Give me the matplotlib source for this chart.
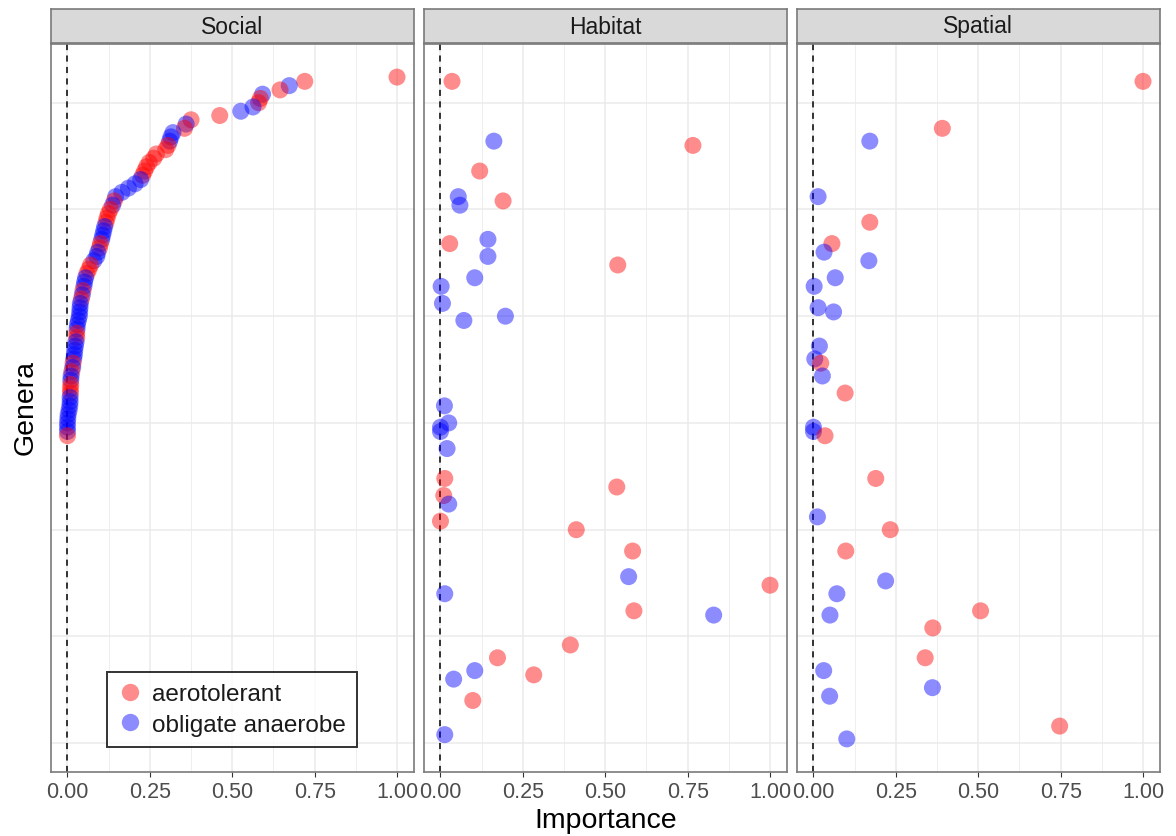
import matplotlib
matplotlib.use("Agg")
import matplotlib.pyplot as plt
from matplotlib.lines import Line2D
import numpy as np

plt.rcParams["font.family"] = ["Liberation Sans", "DejaVu Sans"]

# ---- data -------------------------------------------------------------
panels = ["Social", "Habitat", "Spatial"]
groups = ["aerotolerant", "obligate anaerobe"]
group_colors = {"aerotolerant": "#FF0000", "obligate anaerobe": "#0000FF"}

A, O = "aerotolerant", "obligate anaerobe"

social_rank = list(range(156, 71, -1))
social_importance = [
    1.000, 0.720, 0.673, 0.645, 0.592, 0.585, 0.580, 0.563, 0.526, 0.462,
    0.375, 0.360, 0.355, 0.320, 0.314, 0.310, 0.305, 0.298, 0.270, 0.262,
    0.248, 0.240, 0.234, 0.228, 0.222, 0.205, 0.185, 0.165, 0.146, 0.142,
    0.137, 0.130, 0.124, 0.120, 0.117, 0.113, 0.110, 0.107, 0.104, 0.100,
    0.097, 0.092, 0.089, 0.080, 0.070, 0.065, 0.059, 0.055, 0.052, 0.050,
    0.047, 0.045, 0.042, 0.039, 0.038, 0.037, 0.036, 0.033, 0.030, 0.029,
    0.028, 0.028, 0.026, 0.024, 0.022, 0.021, 0.019, 0.017, 0.016, 0.013,
    0.011, 0.010, 0.010, 0.009, 0.009, 0.008, 0.008, 0.007, 0.005, 0.002,
    0.001, 0.000, 0.000, 0.000, 0.000,
]
social_group = [
    A, A, O, A, O, A, A, O, O, A,
    A, O, A, O, O, O, A, A, A, A,
    A, A, A, A, O, O, O, O, O, A,
    O, A, A, A, A, O, O, O, O, A,
    A, O, O, O, A, A, A, O, O, O,
    A, O, A, O, O, O, O, O, O, O,
    A, A, O, O, O, O, O, A, O, A,
    O, O, A, A, A, O, O, O, O, O,
    O, O, O, O, A,
]

habitat_rank = [155, 141, 140, 134, 128, 126, 127, 117, 118, 114,
                112, 109, 107, 103, 100, 99, 79, 75, 74, 73,
                69, 62, 60, 58, 56, 52, 50, 45, 39, 37,
                35, 31, 30, 23, 20, 17, 16, 15, 10, 2]
habitat_importance = [0.035, 0.162, 0.766, 0.119, 0.054, 0.059, 0.190, 0.028, 0.144, 0.144,
                      0.538, 0.104, 0.002, 0.006, 0.197, 0.071, 0.012, 0.025, 0.000, 0.000,
                      0.020, 0.013, 0.535, 0.010, 0.025, 0.000, 0.412, 0.583, 0.571, 1.000,
                      0.013, 0.587, 0.829, 0.394, 0.173, 0.104, 0.283, 0.040, 0.098, 0.013]
habitat_group = [A, O, A, A, O, O, A, A, O, O,
                 A, O, O, O, O, O, O, O, O, O,
                 O, A, A, A, O, A, A, A, O, A,
                 O, A, O, A, A, O, A, O, A, O]

spatial_rank = [155, 144, 141, 128, 122, 117, 115, 113, 109, 107,
                102, 101, 93, 90, 89, 86, 82, 74, 73, 72,
                62, 53, 50, 45, 38, 35, 31, 30, 27, 20,
                17, 13, 11, 4, 1]
spatial_importance = [1.000, 0.391, 0.171, 0.014, 0.171, 0.056, 0.032, 0.168, 0.066, 0.002,
                      0.014, 0.061, 0.018, 0.004, 0.022, 0.027, 0.096, 0.000, 0.000, 0.035,
                      0.189, 0.012, 0.233, 0.098, 0.219, 0.071, 0.507, 0.050, 0.362, 0.339,
                      0.031, 0.361, 0.049, 0.747, 0.101]
spatial_group = [A, A, O, O, A, A, O, O, O, O,
                 O, O, O, O, A, O, A, O, O, A,
                 A, O, A, A, O, O, A, O, A, A,
                 O, O, O, A, O]

panel_data = {
    "Social": (social_rank, social_importance, social_group),
    "Habitat": (habitat_rank, habitat_importance, habitat_group),
    "Spatial": (spatial_rank, spatial_importance, spatial_group),
}

x_ticks = [0.0, 0.25, 0.5, 0.75, 1.0]
x_ticklabels = ["0.00", "0.25", "0.50", "0.75", "1.00"]
y_breaks = [0, 25, 50, 75, 100, 125, 150]

# ---- layout (pixels) ---------------------------------------------------
W, H = 1176, 837
fig = plt.figure(figsize=(W / 100, H / 100), dpi=100)

panel_left = [51, 424, 797]
panel_w = 362.5
panel_top, panel_bottom = 45, 773
strip_top = 10

border_col = "#7A7A7A"
grid_col = "#EBEBEB"

all_ranks = social_rank + habitat_rank + spatial_rank
ymin, ymax = min(all_ranks), max(all_ranks)
ypad = 0.05 * (ymax - ymin)

axes = []
for i, name in enumerate(panels):
    l = panel_left[i] / W
    b = (H - panel_bottom) / H
    h = (panel_bottom - panel_top) / H
    ax = fig.add_axes([l, b, panel_w / W, h])
    axes.append(ax)

    ax.set_xlim(-0.05, 1.05)
    ax.set_ylim(ymin - ypad, ymax + ypad)

    # grid
    for xv in [0.125, 0.375, 0.625, 0.875]:
        ax.axvline(xv, color=grid_col, lw=0.6, zorder=0)
    for xv in x_ticks:
        ax.axvline(xv, color=grid_col, lw=1.1, zorder=0)
    for yv in y_breaks:
        ax.axhline(yv, color=grid_col, lw=1.1, zorder=0)

    ax.axvline(0, color="black", lw=1.1, ls=(0, (4, 3.5)), zorder=1)

    ranks, imp, grp = panel_data[name]
    for r, x, g in zip(ranks, imp, grp):
        ax.scatter([x], [r], s=150, color=group_colors[g], alpha=0.45,
                   edgecolors="none", zorder=2)

    ax.set_xticks(x_ticks)
    ax.set_xticklabels(x_ticklabels)
    ax.set_yticks([])
    ax.tick_params(axis="x", length=3.5, width=0.8, color="#333333",
                   labelsize=15.5, labelcolor="#4D4D4D", pad=3)
    for sp in ax.spines.values():
        sp.set_color(border_col)
        sp.set_linewidth(1.2)

    # facet strip
    sax = fig.add_axes([l, (H - (panel_top - 1)) / H, panel_w / W,
                        (panel_top - 1 - strip_top) / H])
    sax.set_facecolor("#D9D9D9")
    sax.set_xticks([])
    sax.set_yticks([])
    for sp in sax.spines.values():
        sp.set_color(border_col)
        sp.set_linewidth(1.2)
    sax.text(0.5, 0.5, name, ha="center", va="center", fontsize=16.5,
             color="#1A1A1A", transform=sax.transAxes)

fig.text(606 / W, 1 - 821 / H, "Importance", ha="center", va="center",
         fontsize=20.5, color="black")
fig.text(26 / W, 1 - 408 / H, "Genera", ha="center", va="center",
         fontsize=20.5, color="black", rotation=90)

handles = [Line2D([0], [0], marker="o", linestyle="none", markersize=12.5,
                  markerfacecolor=group_colors[g], markeredgecolor="none",
                  alpha=0.45, label=g) for g in groups]
leg = axes[0].legend(handles=handles, loc="lower left",
                     bbox_to_anchor=(0.155, 0.035), fontsize=17.5,
                     frameon=True, fancybox=False, borderpad=0.45,
                     handletextpad=0.4, labelspacing=0.35,
                     handlelength=1.0, borderaxespad=0)
leg.get_frame().set_edgecolor("black")
leg.get_frame().set_linewidth(1.4)
for t in leg.get_texts():
    t.set_color("#1A1A1A")

fig.savefig("out.png", dpi=100)
